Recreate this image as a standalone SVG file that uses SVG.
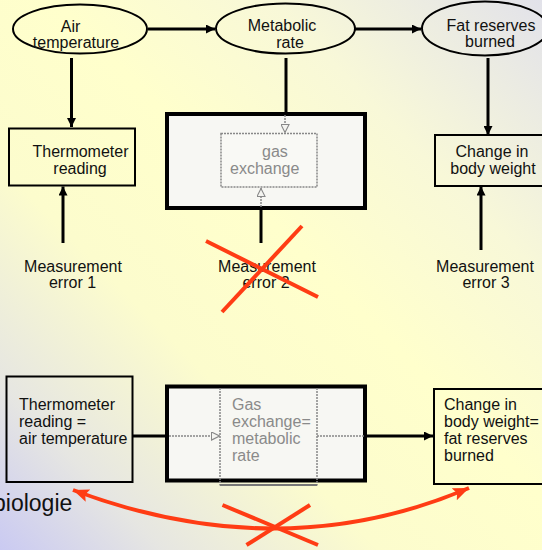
<svg xmlns="http://www.w3.org/2000/svg" width="542" height="550" viewBox="0 0 542 550">
<defs>
<linearGradient id="bg" x1="1" y1="0" x2="0" y2="1">
<stop offset="0" stop-color="#e2e2ea"/>
<stop offset="0.25" stop-color="#f8f8d8"/>
<stop offset="0.45" stop-color="#ffffcc"/>
<stop offset="0.65" stop-color="#fcfccd"/>
<stop offset="0.85" stop-color="#e6e6e2"/>
<stop offset="1" stop-color="#cacaf2"/>
</linearGradient>
<marker id="ab" markerUnits="userSpaceOnUse" markerWidth="9" markerHeight="9" viewBox="0 0 10 10" refX="10" refY="5" orient="auto">
<path d="M0,0 L10,5 L0,10 z" fill="#000"/>
</marker>
<marker id="ag" markerUnits="userSpaceOnUse" markerWidth="9" markerHeight="9" viewBox="0 0 10 10" refX="10" refY="5" orient="auto">
<path d="M0.5,0.5 L9.5,5 L0.5,9.5 z" fill="#f4f4f0" stroke="#888" stroke-width="1.2"/>
</marker>
<marker id="ar" markerUnits="userSpaceOnUse" markerWidth="16" markerHeight="13" viewBox="0 0 16 13" refX="16" refY="6.5" orient="auto">
<path d="M0,0 L16,6.5 L0,13 L3,6.5 z" fill="#ff3c14"/>
</marker>
<marker id="ars" markerUnits="userSpaceOnUse" markerWidth="16" markerHeight="13" viewBox="0 0 16 13" refX="0" refY="6.5" orient="auto">
<path d="M16,0 L0,6.5 L16,13 L13,6.5 z" fill="#ff3c14"/>
</marker>
</defs>
<style>
text{font-family:"Liberation Sans",Arial,sans-serif;font-size:16px;fill:#111}
.c{text-anchor:middle}
.g{fill:#8a8a8a}
.ell{fill:none;stroke:#000;stroke-width:2}
.box{fill:none;stroke:#000;stroke-width:2}
.thick{fill:#f7f7f3;stroke:#000;stroke-width:4}
.inner{fill:#f9f9f5;stroke:#888;stroke-width:1.5;stroke-dasharray:2 1}
.ln{fill:none;stroke:#000;stroke-width:3}
.dot{fill:none;stroke:#888;stroke-width:1.5;stroke-dasharray:2 1}
.red{fill:none;stroke:#ff3c14;stroke-width:4}
</style>
<rect x="0" y="0" width="542" height="550" fill="url(#bg)"/>

<g id="air-temperature">
<ellipse class="ell" cx="80" cy="29" rx="67" ry="24.5"/>
<text class="c" x="70.5" y="32">Air</text>
<text class="c" x="76" y="48">temperature</text>
</g>
<g id="metabolic-rate">
<ellipse class="ell" cx="285.5" cy="28.5" rx="69.5" ry="25"/>
<text class="c" x="282" y="31">Metabolic</text>
<text class="c" x="290" y="48">rate</text>
</g>
<g id="fat-reserves">
<ellipse class="ell" cx="485" cy="28.5" rx="63" ry="27"/>
<text class="c" x="491" y="31">Fat reserves</text>
<text class="c" x="490" y="47">burned</text>
</g>

<g id="thermometer-reading">
<rect class="box" x="9" y="128.5" width="126" height="57"/>
<text class="c" x="80.5" y="157">Thermometer</text>
<text class="c" x="80" y="174">reading</text>
</g>
<g id="gas-exchange-box">
<rect class="thick" x="167" y="114" width="198" height="94"/>
<rect class="inner" x="221" y="133.5" width="96" height="53.5"/>
<text class="g" x="262" y="157">gas</text>
<text class="g" x="230" y="174">exchange</text>
</g>
<g id="change-body-weight">
<rect class="box" x="435" y="135" width="110" height="51"/>
<text class="c" x="492" y="157">Change in</text>
<text class="c" x="493" y="174">body weight</text>
</g>

<g id="error-1">
<text class="c" x="73" y="272">Measurement</text>
<text class="c" x="72.5" y="288">error 1</text>
</g>
<g id="error-2">
<text class="c" x="267" y="272">Measurement</text>
<text class="c" x="266" y="288">error 2</text>
</g>
<g id="error-3">
<text class="c" x="485" y="272">Measurement</text>
<text class="c" x="486" y="288">error 3</text>
</g>

<g id="thermometer-equals-air">
<rect class="box" x="6.5" y="376.5" width="126" height="105.5"/>
<text x="19" y="410">Thermometer</text>
<text x="19" y="427">reading =</text>
<text x="19" y="444">air temperature</text>
</g>
<g id="gas-exchange-equals-metabolic">
<rect class="thick" x="167" y="386.5" width="198" height="94"/>
<path d="M220,388 V485.5 M317,388 V485.5" class="dot"/>
<line x1="220" y1="485" x2="317" y2="485" stroke="#777" stroke-width="2"/>
<text class="g" x="232" y="410">Gas</text>
<text class="g" x="232" y="427">exchange=</text>
<text class="g" x="232" y="444">metabolic</text>
<text class="g" x="232" y="461">rate</text>
</g>
<g id="body-weight-equals-fat">
<rect class="box" x="434" y="389" width="110" height="95"/>
<text x="444" y="410">Change in</text>
<text x="444" y="427">body weight=</text>
<text x="444" y="444">fat reserves</text>
<text x="444" y="461">burned</text>
</g>

<g id="label-biologie">
<text x="-7" y="511" style="font-size:23px">biologie</text>
</g>

<g id="connectors">
<line class="ln" x1="148" y1="29" x2="215" y2="29" marker-end="url(#ab)"/>
<line class="ln" x1="355" y1="29" x2="421" y2="29" marker-end="url(#ab)"/>
<line class="ln" x1="71.5" y1="58" x2="71.5" y2="127" marker-end="url(#ab)"/>
<line class="ln" x1="488" y1="58" x2="488" y2="135" marker-end="url(#ab)"/>
<line class="ln" x1="63" y1="243" x2="63" y2="186.5" marker-end="url(#ab)"/>
<line class="ln" x1="481" y1="250" x2="481" y2="186.5" marker-end="url(#ab)"/>
<line class="ln" x1="286" y1="58" x2="286" y2="113"/>
<line class="dot" x1="285" y1="115" x2="285" y2="133" marker-end="url(#ag)"/>
<line class="ln" x1="261" y1="243" x2="261" y2="209"/>
<line class="dot" x1="261" y1="207" x2="261" y2="188" marker-end="url(#ag)"/>
<line class="ln" x1="133" y1="436" x2="166" y2="436"/>
<line class="dot" x1="169" y1="436" x2="220" y2="436" marker-end="url(#ag)"/>
<line class="dot" x1="317" y1="436" x2="365" y2="436"/>
<line class="ln" x1="366" y1="436" x2="433" y2="436" marker-end="url(#ab)"/>
<path class="red" d="M73,490 Q281,568 469,488" marker-start="url(#ars)" marker-end="url(#ar)"/>
</g>

<g id="crosses">
<line class="red" x1="206" y1="241" x2="318" y2="297"/>
<line class="red" x1="302" y1="226" x2="222" y2="312"/>
<line class="red" x1="222.5" y1="505" x2="318" y2="545"/>
<line class="red" x1="310" y1="505" x2="246.5" y2="545"/>
</g>
</svg>
